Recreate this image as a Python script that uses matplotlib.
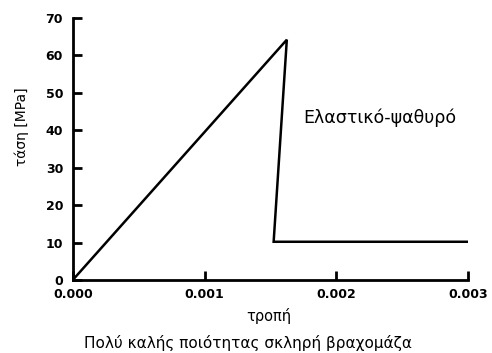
import matplotlib
matplotlib.use("Agg")
import matplotlib.pyplot as plt

# stress-strain path of an elastic-brittle rock mass
strain = [0.0, 0.001625, 0.001525, 0.003]
stress = [0.0, 64.2, 10.2, 10.2]

xticks = [0.000, 0.001, 0.002, 0.003]
xtick_labels = ["0.000", "0.001", "0.002", "0.003"]
yticks = [0, 10, 20, 30, 40, 50, 60, 70]

plt.rcParams["font.family"] = ["DejaVu Sans"]

fig = plt.figure(figsize=(4.92, 3.53), dpi=100)
ax = fig.add_axes([0.148, 0.207, 0.803, 0.742])

ax.plot(strain, stress, color="black", lw=1.8, solid_joinstyle="miter")

ax.set_xlim(0, 0.003)
ax.set_ylim(0, 70)
ax.set_xticks(xticks)
ax.set_xticklabels(xtick_labels)
ax.set_yticks(yticks)

for side in ("top", "right"):
    ax.spines[side].set_visible(False)
for side in ("left", "bottom"):
    ax.spines[side].set_linewidth(2.0)

ax.tick_params(direction="in", length=6.5, width=2.0, labelsize=9)
ax.tick_params(axis="y", pad=7)
ax.tick_params(axis="x", pad=6)
for lab in ax.get_xticklabels() + ax.get_yticklabels():
    lab.set_fontweight("bold")

ax.set_ylabel("τάση [MPa]", fontsize=10)
ax.yaxis.set_label_coords(-0.11, 0.584)
ax.set_xlabel("τροπή", fontsize=10.5)
ax.xaxis.set_label_coords(0.496, -0.107)

ax.text(0.00175, 43.3, "Ελαστικό-ψαθυρό", fontsize=12.5, ha="left", va="center")

fig.text(0.505, 0.028, "Πολύ καλής ποιότητας σκληρή βραχομάζα",
         fontsize=11, ha="center", va="center")

fig.savefig("out.png", dpi=100)
